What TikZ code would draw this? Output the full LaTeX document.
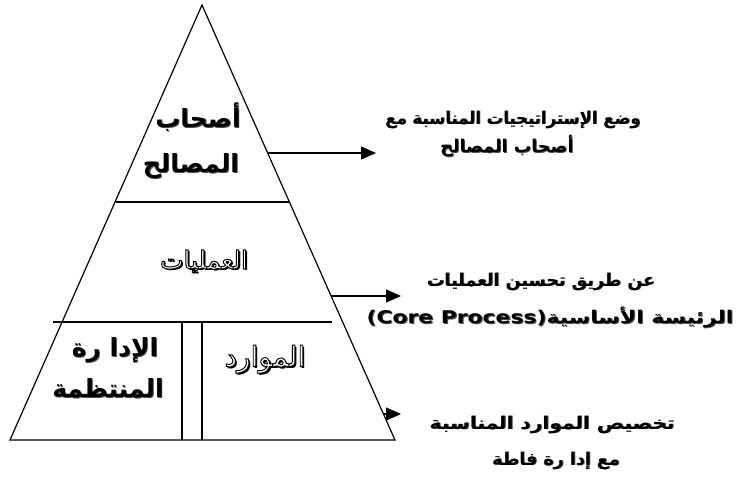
\documentclass[tikz,border=0pt]{standalone}
\usepackage{fontspec}
\usetikzlibrary{arrows.meta}
\TeXXeTstate=1
\newfontfamily\arabicfont[Script=Arabic]{DejaVu Sans}
\newfontfamily\latinfont{DejaVu Sans}
% right-to-left run
\newcommand\rtl[1]{\beginR#1\endR}
% text with a dark drop shadow
\newcommand\shadowtxt[1]{\leavevmode\rlap{\kern0.9pt\raisebox{-0.9pt}{\color{black!70}#1}}#1}
% outlined (hollow) text with a dark drop shadow
\newcommand\hollowtxt[1]{\leavevmode\rlap{\kern1.6pt\raisebox{-1.6pt}{#1}}{\color{white}\special{pdf:literal direct 2 Tr 0.95 w 0 G}#1\special{pdf:literal direct 0 Tr}}}

\begin{document}
\begin{tikzpicture}[x=1pt,y=-1pt,
  edge/.style={line width=1.2pt, line join=miter},
  arrowline/.style={line width=1.2pt,-{Triangle[length=15pt,width=13pt]}},
  smalllabel/.style={font=\arabicfont\bfseries\fontsize{25}{28}\selectfont, inner sep=0pt},
  biglabel/.style={font=\arabicfont\fontsize{25}{28}\selectfont, inner sep=0pt},
  note/.style={font=\arabicfont\bfseries\fontsize{17.5}{20}\selectfont, inner sep=0pt}]
\useasboundingbox (0,0) rectangle (745,490);

% pyramid outline
\coordinate (apex) at (202,5);
\coordinate (bl) at (10,440);
\coordinate (br) at (395,440);
\draw[edge] (apex) -- (br) -- (bl) -- cycle;

% level dividers
\coordinate (d1l) at (116,202); \coordinate (d1r) at (289,202);
\draw[edge] (d1l) -- (d1r);
\coordinate (d2l) at (53,322); \coordinate (d2r) at (332,322);
\draw[edge] (d2l) -- (d2r);
\coordinate (v1t) at (182,322); \coordinate (v1b) at (182,440);
\coordinate (v2t) at (202,322); \coordinate (v2b) at (202,440);
\draw[edge] (v1t) -- (v1b);
\draw[edge] (v2t) -- (v2b);

% labels inside the pyramid
\node[smalllabel] (stk1) at (198,117) {\shadowtxt{\rtl{أصحاب}}};
\node[smalllabel] (stk2) at (191,167) {\shadowtxt{\rtl{المصالح}}};
\node[biglabel] (proc) at (204,262) {\hollowtxt{\rtl{العمليات}}};
\node[biglabel, font=\arabicfont\fontsize{28}{30}\selectfont] (res) at (265,360) {\hollowtxt{\rtl{الموارد}}};
\node[smalllabel] (mgt1) at (115,351) {\shadowtxt{\rtl{الإدا رة}}};
\node[smalllabel] (mgt2) at (108,389) {\shadowtxt{\rtl{المنتظمة}}};

% arrows leaving the right side
\coordinate (a1s) at (268,153); \coordinate (a1e) at (376,153);
\coordinate (a2s) at (331,296); \coordinate (a2e) at (401,296);
\coordinate (a3s) at (383,414); \coordinate (a3e) at (401,414);
\draw[arrowline] (a1s) -- (a1e);
\draw[arrowline] (a2s) -- (a2e);
\draw[arrowline] (a3s) -- (a3e);

% notes on the right
\node[note, xscale=0.94] (n1a) at (513,120) {\shadowtxt{\rtl{وضع الإستراتيجيات المناسبة مع}}};
\node[note] (n1b) at (507,146) {\shadowtxt{\rtl{أصحاب المصالح}}};
\node[note] (n2a) at (541,282) {\shadowtxt{\rtl{عن طريق تحسين العمليات}}};
\node[note, xscale=1.25] (n2b) at (550,318) {\shadowtxt{\rtl{الرئيسة الأساسية\beginL{\latinfont(Core Process)}\endL}}};
\node[note, xscale=1.15] (n3a) at (552,425) {\shadowtxt{\rtl{تخصيص الموارد المناسبة}}};
\node[note] (n3b) at (556,461) {\shadowtxt{\rtl{مع إدا رة فاطة}}};
\end{tikzpicture}
\end{document}
